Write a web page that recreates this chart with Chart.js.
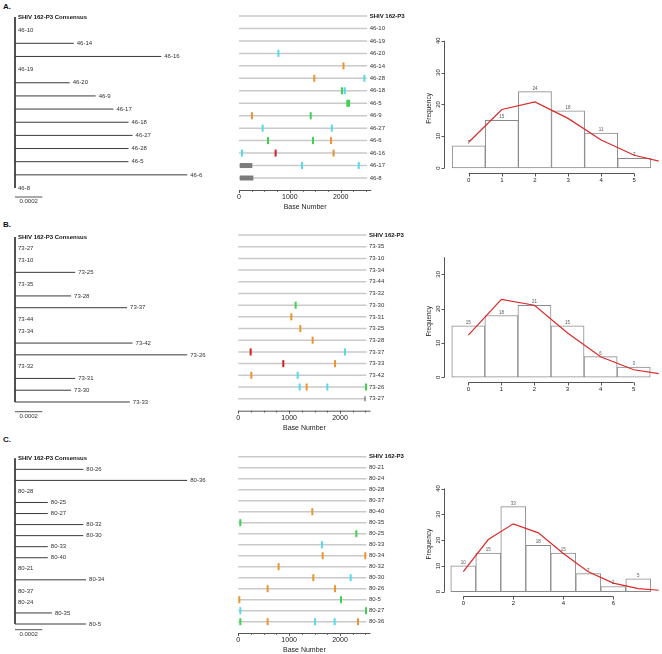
<!DOCTYPE html>
<html>
<head>
<meta charset="utf-8">
<script src="https://cdn.jsdelivr.net/npm/chart.js@4.4.1/dist/chart.umd.min.js"></script>
<style>
  body { margin: 0; background: #fff; width: 662px; height: 654px; position: relative; overflow: hidden; }
  canvas { position: absolute; }
  .tag { position: absolute; font: bold 8px Arial, "Liberation Sans", sans-serif; color: #111; }
</style>
</head>
<body>
<div class="tag" style="left:3px;top:2px">A.</div>
<div class="tag" style="left:3px;top:220px">B.</div>
<div class="tag" style="left:3px;top:435px">C.</div>
<script>
// ---------- data: panel A ----------
const treeNamesA = ['SHIV 162-P3 Consensus', '46-10', '46-14', '46-16', '46-19', '46-20', '46-9', '46-17', '46-18', '46-27', '46-28', '46-5', '46-6', '46-8'];
const treeLensA = [0, 0, 0.00043, 0.00107, 0, 0.00040, 0.00059, 0.00072, 0.00083, 0.00086, 0.00083, 0.00083, 0.00126, 0];
const hlNamesA = ['SHIV 162-P3', '46-10', '46-19', '46-20', '46-14', '46-28', '46-18', '46-5', '46-9', '46-27', '46-6', '46-16', '46-17', '46-8'];
const hlMutsA = [
  ['46-20', 775, 'C'], ['46-14', 2055, 'G'], ['46-28', 1480, 'G'], ['46-28', 2465, 'C'],
  ['46-18', 2025, 'A'], ['46-18', 2080, 'C'], ['46-5', 2130, 'A'], ['46-5', 2165, 'A'],
  ['46-9', 255, 'G'], ['46-9', 1410, 'A'], ['46-27', 465, 'C'], ['46-27', 1825, 'C'],
  ['46-6', 570, 'A'], ['46-6', 1455, 'A'], ['46-6', 1810, 'G'],
  ['46-16', 60, 'C'], ['46-16', 720, 'T'], ['46-16', 1860, 'G'],
  ['46-17', 1240, 'C'], ['46-17', 2355, 'C']
];
const hlGapsA = [['46-17', 15, 262], ['46-8', 15, 282]];
const histBinsA = [0, 1, 2, 3, 4, 5];
const histCountsA = [7, 15, 24, 18, 11, 3];
const fitXA = [0, 1, 2, 3, 4, 5, 6];
const fitA = [8.1, 18.4, 20.8, 15.6, 8.8, 4.0, 1.5];
const xTicksA = [0, 1, 2, 3, 4, 5];
const yTicksA = [0, 10, 20, 30, 40];

// ---------- data: panel B ----------
const treeNamesB = ['SHIV 162-P3 Consensus', '73-27', '73-10', '73-25', '73-35', '73-28', '73-37', '73-44', '73-34', '73-42', '73-26', '73-32', '73-31', '73-30', '73-33'];
const treeLensB = [0, 0, 0, 0.00044, 0, 0.00041, 0.00082, 0, 0, 0.00086, 0.00126, 0, 0.00044, 0.00041, 0.00084];
const hlNamesB = ['SHIV 162-P3', '73-35', '73-10', '73-34', '73-44', '73-32', '73-30', '73-31', '73-25', '73-28', '73-37', '73-33', '73-42', '73-26', '73-27'];
const hlMutsB = [
  ['73-30', 1128, 'A'], ['73-31', 1043, 'G'], ['73-25', 1220, 'G'], ['73-28', 1462, 'G'],
  ['73-37', 243, 'T'], ['73-37', 2098, 'C'], ['73-33', 885, 'T'], ['73-33', 1902, 'G'],
  ['73-42', 256, 'G'], ['73-42', 1167, 'C'],
  ['73-26', 1207, 'C'], ['73-26', 1344, 'G'], ['73-26', 1751, 'C'], ['73-26', 2511, 'A']
];
const hlGapsB = [['73-27', 2478, 2505]];
const histBinsB = [0, 1, 2, 3, 4, 5];
const histCountsB = [15, 18, 21, 15, 6, 3];
const fitXB = [0, 1, 2, 3, 4, 5, 6];
const fitB = [12.3, 22.7, 21.0, 12.9, 6.0, 2.2, 0.7];
const xTicksB = [0, 1, 2, 3, 4, 5];
const yTicksB = [0, 10, 20, 30];

// ---------- data: panel C ----------
const treeNamesC = ['SHIV 162-P3 Consensus', '80-26', '80-36', '80-28', '80-25', '80-27', '80-32', '80-30', '80-33', '80-40', '80-21', '80-34', '80-37', '80-24', '80-35', '80-5'];
const treeLensC = [0, 0.00050, 0.00126, 0, 0.00024, 0.00024, 0.00050, 0.00050, 0.00024, 0.00024, 0, 0.00052, 0, 0, 0.00027, 0.00052];
const hlNamesC = ['SHIV 162-P3', '80-21', '80-24', '80-28', '80-37', '80-40', '80-35', '80-25', '80-33', '80-34', '80-32', '80-30', '80-26', '80-5', '80-27', '80-36'];
const hlMutsC = [
  ['80-40', 1456, 'G'], ['80-35', 39, 'A'], ['80-25', 2321, 'A'], ['80-33', 1646, 'C'],
  ['80-34', 1659, 'G'], ['80-34', 2498, 'G'], ['80-32', 793, 'G'],
  ['80-30', 1475, 'G'], ['80-30', 2210, 'C'], ['80-26', 577, 'G'], ['80-26', 1902, 'G'],
  ['80-5', 20, 'G'], ['80-5', 2020, 'A'], ['80-27', 39, 'C'], ['80-27', 2511, 'A'],
  ['80-36', 39, 'A'], ['80-36', 577, 'G'], ['80-36', 1508, 'C'], ['80-36', 1895, 'C'], ['80-36', 2354, 'G']
];
const hlGapsC = [];
const histBinsC = [0, 1, 2, 3, 4, 5, 6, 7];
const histCountsC = [10, 15, 33, 18, 15, 7, 2, 5];
const fitXC = [0, 1, 2, 3, 4, 5, 6, 7, 8];
const fitC = [7.8, 20.2, 26.3, 22.8, 14.8, 7.7, 3.3, 1.2, 0.4];
const xTicksC = [0, 2, 4, 6];
const yTicksC = [0, 10, 20, 30, 40];

const seqEnd = 2520;        // end of aligned sequence (base number)
const baseTicks = [0, 1000, 2000];
const scaleBar = 0.0002;

// ---------- styles ----------
const FONT = 'Arial, "Liberation Sans", sans-serif';
const NT_COLORS = { A: '#3ad24f', C: '#52dbea', G: '#eb9430', T: '#d01f1f' };

function makeCanvas(x, y, w, h) {
  const c = document.createElement('canvas');
  c.width = w; c.height = h;
  c.style.left = x + 'px'; c.style.top = y + 'px';
  c.style.width = w + 'px'; c.style.height = h + 'px';
  document.body.appendChild(c);
  return c;
}

const baseOpts = (pad) => ({
  responsive: false, animation: false, devicePixelRatio: 1,
  layout: { padding: pad },
  plugins: { legend: { display: false }, tooltip: { enabled: false } },
  elements: { point: { radius: 0 } }
});

// tree labels + scale bar
const treePlugin = {
  id: 'treeText',
  afterDatasetsDraw(chart, args, o) {
    const ctx = chart.ctx, xs = chart.scales.x, ys = chart.scales.y;
    ctx.save();
    ctx.textBaseline = 'middle';
    o.names.forEach((n, i) => {
      ctx.font = (i === 0 ? 'bold ' : '') + '6px ' + FONT;
      ctx.fillStyle = i === 0 ? '#111' : '#333';
      ctx.fillText(n, xs.getPixelForValue(o.lens[i]) + 3, ys.getPixelForValue(i));
    });
    const yb = ys.getPixelForValue(o.names.length - 1) + o.barGap;
    const x0 = xs.getPixelForValue(0), x1 = xs.getPixelForValue(scaleBar);
    ctx.strokeStyle = '#555'; ctx.lineWidth = 1;
    ctx.beginPath(); ctx.moveTo(x0, yb); ctx.lineTo(x1, yb); ctx.stroke();
    ctx.font = '6px ' + FONT; ctx.fillStyle = '#333'; ctx.textAlign = 'center';
    ctx.fillText(String(scaleBar), (x0 + x1) / 2, yb + 4.8);
    ctx.restore();
  }
};

function treeChart(x, y, w, h, names, lens, pad, barGap) {
  const n = names.length;
  const sets = [{ data: [{ x: 0, y: 0 }, { x: 0, y: n - 1 }] }];
  lens.forEach((L, i) => { if (L > 0) sets.push({ data: [{ x: 0, y: i }, { x: L, y: i }] }); });
  const opts = baseOpts(pad);
  opts.scales = {
    x: { type: 'linear', display: false, min: 0, max: 0.0014 },
    y: { type: 'linear', display: false, min: 0, max: n - 1, reverse: true }
  };
  opts.plugins.treeText = { names, lens, barGap };
  new Chart(makeCanvas(x, y, w, h), {
    type: 'scatter',
    data: { datasets: sets.map(d => ({ ...d, showLine: true, borderColor: '#3a3a3a', borderWidth: 1, clip: false })) },
    options: opts,
    plugins: [treePlugin]
  });
}

// highlighter labels + base-number axis
const hlPlugin = {
  id: 'hlText',
  afterDatasetsDraw(chart, args, o) {
    const ctx = chart.ctx, xs = chart.scales.x, ys = chart.scales.y;
    ctx.save();
    ctx.textBaseline = 'middle';
    const lx = xs.getPixelForValue(seqEnd) + 2.5;
    o.names.forEach((n, i) => {
      ctx.font = (i === 0 ? 'bold ' : '') + '6px ' + FONT;
      ctx.fillStyle = i === 0 ? '#111' : '#333';
      ctx.fillText(n, lx, ys.getPixelForValue(i));
    });
    const ay = ys.getPixelForValue(o.names.length - 1) + o.axisGap;
    ctx.strokeStyle = '#555'; ctx.lineWidth = 1;
    ctx.beginPath();
    ctx.moveTo(xs.getPixelForValue(0), ay + 0.5); ctx.lineTo(xs.getPixelForValue(2600), ay + 0.5);
    for (let v = 0; v <= 2500; v += 250) {
      const px = Math.round(xs.getPixelForValue(v)) + 0.5;
      ctx.moveTo(px, ay); ctx.lineTo(px, ay + (v % 1000 === 0 ? 3 : 1.8));
    }
    ctx.stroke();
    ctx.fillStyle = '#222'; ctx.textAlign = 'center';
    ctx.font = '7px ' + FONT;
    baseTicks.forEach(v => ctx.fillText(String(v), xs.getPixelForValue(v), ay + 7));
    ctx.fillText('Base Number', xs.getPixelForValue(1300), ay + 17);
    ctx.restore();
  }
};

function hlChart(x, y, w, h, names, muts, gaps, pad, axisGap) {
  const row = name => names.indexOf(name);
  // lower "order" is drawn on top: rows (3) < gaps (2) < mutations (1)
  const sets = names.map((n, i) => ({
    type: 'line', data: [{ x: 0, y: i }, { x: seqEnd, y: i }], order: 3,
    borderColor: '#c9c9c9', borderWidth: 1.5, pointRadius: 0, clip: false
  }));
  gaps.forEach(g => sets.push({
    type: 'line', data: [{ x: g[1], y: row(g[0]) }, { x: g[2], y: row(g[0]) }], order: 2,
    borderColor: '#7c7c7c', borderWidth: 5, borderCapStyle: 'butt', pointRadius: 0, clip: false
  }));
  sets.push({
    type: 'scatter', order: 1,
    data: muts.map(m => ({ x: m[1], y: row(m[0]), nt: m[2] })),
    pointStyle: 'line', rotation: 90, pointRadius: 3.5, borderWidth: 2,
    pointBorderColor: c => NT_COLORS[c.raw.nt], borderColor: c => NT_COLORS[c.raw ? c.raw.nt : 'A'], clip: false
  });
  const opts = baseOpts(pad);
  opts.scales = {
    x: { type: 'linear', display: false, min: 0, max: 2600 },
    y: { type: 'linear', display: false, min: 0, max: names.length - 1, reverse: true }
  };
  opts.plugins.hlText = { names, axisGap };
  new Chart(makeCanvas(x, y, w, h), { type: 'scatter', data: { datasets: sets }, options: opts, plugins: [hlPlugin] });
}

// R-style axes + bar counts
const rPlugin = {
  id: 'rAxes',
  afterDatasetsDraw(chart, args, o) {
    const ctx = chart.ctx, xs = chart.scales.x, ys = chart.scales.y, a = chart.chartArea;
    ctx.save();
    // counts above bars
    ctx.font = '4.5px ' + FONT; ctx.fillStyle = '#555'; ctx.textAlign = 'center'; ctx.textBaseline = 'bottom';
    o.bins.forEach((b, i) => ctx.fillText(String(o.counts[i]), xs.getPixelForValue(b), ys.getPixelForValue(o.counts[i]) - 1));
    ctx.strokeStyle = '#555'; ctx.lineWidth = 1;
    const lx = Math.round(a.left) + 0.5, by = Math.round(a.bottom) + 0.5;
    ctx.beginPath();
    ctx.moveTo(lx, ys.getPixelForValue(0)); ctx.lineTo(lx, ys.getPixelForValue(o.yTop));
    o.yTicks.forEach(v => { const p = Math.round(ys.getPixelForValue(v)) + 0.5; ctx.moveTo(lx, p); ctx.lineTo(lx - 3, p); });
    ctx.moveTo(xs.getPixelForValue(o.xTicks[0]), by); ctx.lineTo(xs.getPixelForValue(o.xTicks[o.xTicks.length - 1]), by);
    o.xTicks.forEach(v => { const p = Math.round(xs.getPixelForValue(v)) + 0.5; ctx.moveTo(p, by); ctx.lineTo(p, by + 3); });
    ctx.stroke();
    ctx.fillStyle = '#222'; ctx.font = '6px ' + FONT; ctx.textBaseline = 'middle';
    o.xTicks.forEach(v => ctx.fillText(String(v), xs.getPixelForValue(v), by + 6.5));
    o.yTicks.forEach(v => {
      ctx.save(); ctx.translate(lx - 6, ys.getPixelForValue(v)); ctx.rotate(-Math.PI / 2);
      ctx.fillText(String(v), 0, 0); ctx.restore();
    });
    ctx.save(); ctx.translate(lx - 15.5, (ys.getPixelForValue(0) + ys.getPixelForValue(o.yTop)) / 2 + 4);
    ctx.rotate(-Math.PI / 2); ctx.font = '6.5px ' + FONT; ctx.fillText('Frequency', 0, 0); ctx.restore();
    ctx.restore();
  }
};

function histChart(x, y, w, h, bins, counts, fx, fit, xTicks, yTicks, yTop, xLim, yLim, pad) {
  const opts = baseOpts(pad);
  opts.scales = {
    x: { type: 'linear', display: false, min: xLim[0], max: xLim[1], offset: false },
    y: { type: 'linear', display: false, min: yLim[0], max: yLim[1] }
  };
  opts.plugins.rAxes = { bins, counts, xTicks, yTicks, yTop };
  new Chart(makeCanvas(x, y, w, h), {
    type: 'bar',
    data: {
      datasets: [
        {
          type: 'bar', data: bins.map((b, i) => ({ x: b, y: counts[i] })),
          backgroundColor: '#ffffff', borderColor: '#8a8a8a', borderWidth: 1, borderSkipped: false,
          barPercentage: 1, categoryPercentage: 1, order: 2
        },
        {
          type: 'line', data: fx.map((v, i) => ({ x: v, y: fit[i] })),
          borderColor: '#dc2a2a', borderWidth: 1.2, pointRadius: 0, tension: 0, order: 1
        }
      ]
    },
    options: opts,
    plugins: [rPlugin]
  });
}

// ---------- panel A ----------
treeChart(0, 0, 230, 215, treeNamesA, treeLensA, { left: 15, right: 23.6, top: 17, bottom: 27 }, 9);
hlChart(225, 0, 195, 215, hlNamesA, hlMutsA, hlGapsA, { left: 14, right: 48.8, top: 16, bottom: 37 }, 12);
histChart(420, 20, 242, 190, histBinsA, histCountsA, fitXA, fitA, xTicksA, yTicksA, 40,
  [-0.746, 5.737], [-1.67, 41.6], { left: 24, right: 3.3, top: 15.7, bottom: 36.7 });

// ---------- panel B ----------
treeChart(0, 215, 230, 215, treeNamesB, treeLensB, { left: 15, right: 23.6, top: 22, bottom: 28 }, 9.7);
hlChart(225, 215, 195, 215, hlNamesB, hlMutsB, hlGapsB, { left: 13.3, right: 49.5, top: 20, bottom: 31.3 }, 12);
histChart(420, 225, 242, 190, histBinsB, histCountsB, fitXB, fitB, xTicksB, yTicksB, 35,
  [-0.735, 5.756], [-1.46, 36.4], { left: 24, right: 3.3, top: 27.4, bottom: 32.7 });

// ---------- panel C ----------
treeChart(0, 430, 230, 224, treeNamesC, treeLensC, { left: 15, right: 23.6, top: 28.3, bottom: 30 }, 5.7);
hlChart(225, 430, 195, 224, hlNamesC, hlMutsC, hlGapsC, { left: 13.3, right: 49.5, top: 26.7, bottom: 32.3 }, 11.3);
histChart(420, 430, 242, 200, histBinsC, histCountsC, fitXC, fitC, xTicksC, yTicksC, 40,
  [-0.772, 7.816], [-1.8, 41.6], { left: 24, right: 3.3, top: 54.4, bottom: 33.7 });
</script>
</body>
</html>
